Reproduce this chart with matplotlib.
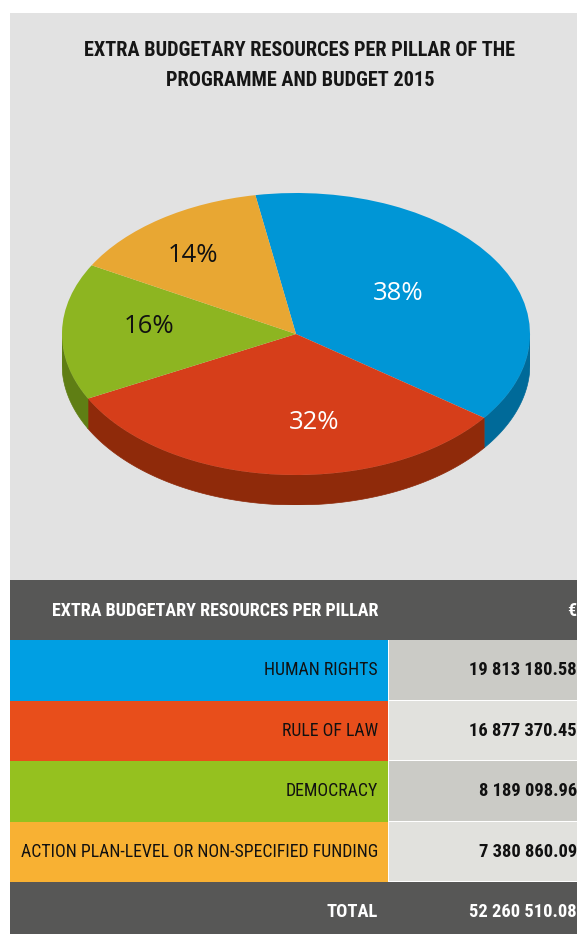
import numpy as np
import matplotlib
matplotlib.use("Agg")
import matplotlib.pyplot as plt
from matplotlib import font_manager
from matplotlib.patches import Rectangle, Polygon

# ---------------- data ----------------
categories = ["HUMAN RIGHTS", "RULE OF LAW", "DEMOCRACY",
              "ACTION PLAN-LEVEL OR NON-SPECIFIED FUNDING"]
values = [19813180.58, 16877370.45, 8189098.96, 7380860.09]
total_value = 52260510.08
title_lines = ["EXTRA BUDGETARY RESOURCES PER PILLAR OF THE",
               "PROGRAMME AND BUDGET 2015"]
header_label = "EXTRA BUDGETARY RESOURCES PER PILLAR"
header_unit = "€"
total_label = "TOTAL"

# ---------------- styles ----------------
top_colors = ["#0096d6", "#d63e1a", "#8db521", "#e8a733"]
side_colors = ["#006a99", "#8f2a0a", "#5f7e14", "#a87a20"]
pct_colors = ["white", "white", "#111111", "#111111"]
pct_nudges = [(-0.074, -0.03), (0.125, -0.027), (-0.028, 0.046), (-0.092, 0.07)]
row_colors = ["#009fe3", "#e84e1b", "#95c11f", "#f8b133"]
cell_colors = ["#cbcbc6", "#e1e1dd"]
panel_color = "#e2e2e2"
dark = "#575756"

names = {f.name for f in font_manager.fontManager.ttflist}
cond = next((c for c in ["Roboto Condensed", "Liberation Sans Narrow",
                         "DejaVu Sans Condensed", "Open Sans Condensed"] if c in names),
            "DejaVu Sans")
pctfont = next((c for c in ["Open Sans", "Noto Sans", "Lato"] if c in names), "DejaVu Sans")


def fmt(v):
    return f"{v:,.2f}".replace(",", " ")


W, H = 577, 934
fig = plt.figure(figsize=(W / 100, H / 100), dpi=100, facecolor="white")
base = fig.add_axes([0, 0, 1, 1])
base.set_xlim(0, W)
base.set_ylim(H, 0)
base.axis("off")

# grey panel
base.add_patch(Rectangle((10, 13), W - 10, 567, color=panel_color, lw=0))
for i, line in enumerate(title_lines):
    base.text(300, 51 + 30 * i, line, ha="center", va="center", fontsize=14.6,
              fontweight="bold", family=cond, color="#161616")

# ---------------- pie ----------------
depth = 30 / 141
pax = fig.add_axes([62 / W, 1 - 505 / H, 468 / W, 312 / H])
pax.axis("off")
wedges, texts, autotexts = pax.pie(values, colors=top_colors, startangle=100,
                                   counterclock=False, autopct="%1.0f%%",
                                   pctdistance=0.6, radius=1.0,
                                   wedgeprops=dict(linewidth=0),
                                   textprops=dict(fontsize=18.5, family=pctfont))
for w in wedges:
    w.set_zorder(3)
for t, c, (dx, dy) in zip(autotexts, pct_colors, pct_nudges):
    t.set_color(c)
    t.set_zorder(5)
    x, y = t.get_position()
    t.set_position((x + dx, y + dy))

# side walls (front half of the disc)
for w, sc in zip(wedges, side_colors):
    t1, t2 = w.theta1, w.theta2
    for k in (-1, 0, 1):
        a = max(t1, -180 + 360 * k)
        b = min(t2, 360 * k)
        if b > a:
            th = np.radians(np.linspace(a, b, 200))
            xs = np.cos(th)
            ys = np.sin(th)
            pts = np.concatenate([np.column_stack([xs, ys]),
                                  np.column_stack([xs[::-1], ys[::-1] - depth])])
            pax.add_patch(Polygon(pts, closed=True, facecolor=sc,
                                  edgecolor=sc, lw=0.5, zorder=2))
pax.set_aspect("auto")
pax.set_xlim(-1, 1)
pax.set_ylim(-1 - depth, 1)

# ---------------- table ----------------
split = 388
row_top = 640
row_h = 60.5
base.add_patch(Rectangle((10, 580), W - 10, 60, color=dark, lw=0))
base.text(378, 611, header_label, ha="right", va="center", fontsize=13,
          fontweight="bold", family=cond, color="white")
base.text(576, 611, header_unit, ha="right", va="center", fontsize=13,
          fontweight="bold", family=cond, color="white")

for i, (cat, v) in enumerate(zip(categories, values)):
    y0 = row_top + i * row_h
    base.add_patch(Rectangle((10, y0), split - 10, row_h, color=row_colors[i], lw=0))
    base.add_patch(Rectangle((split + 1, y0), W - split, row_h - 1,
                             color=cell_colors[i % 2], lw=0))
    base.text(378, y0 + row_h / 2, cat, ha="right", va="center", fontsize=12.8,
              family=cond, color="#111111")
    base.text(577, y0 + row_h / 2, fmt(v), ha="right", va="center", fontsize=13.3,
              fontweight="bold", family=cond, color="#111111")

yt = row_top + 4 * row_h
base.add_patch(Rectangle((10, yt), W - 10, 60, color=dark, lw=0))
base.text(378, yt + 30, total_label, ha="right", va="center", fontsize=13.3,
          fontweight="bold", family=cond, color="white")
base.text(577, yt + 30, fmt(total_value), ha="right", va="center", fontsize=13.3,
          fontweight="bold", family=cond, color="white")

fig.savefig("out.png", dpi=100, facecolor="white")
